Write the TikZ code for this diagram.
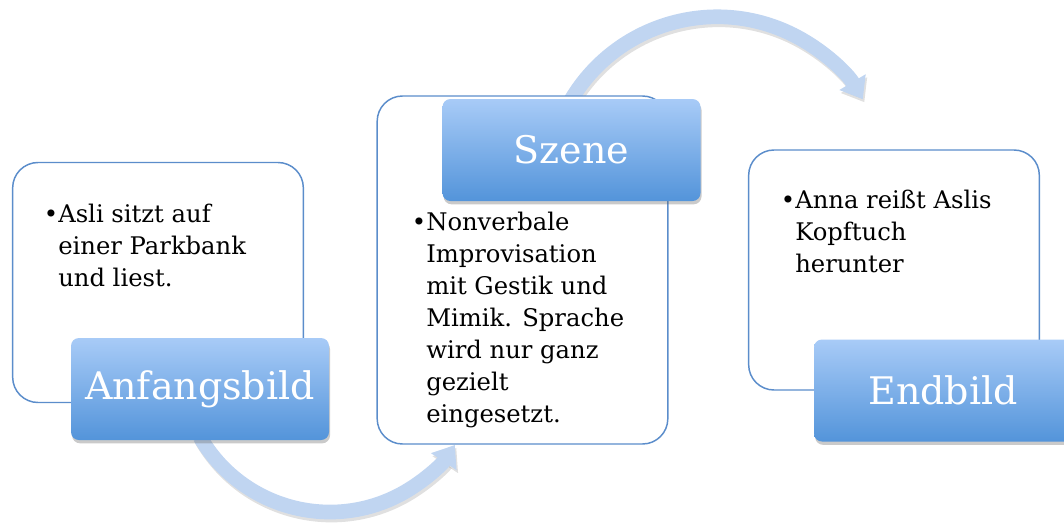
\documentclass[tikz,border=0pt]{standalone}
\usepackage{fontspec}
\setmainfont{DejaVu Serif}
\usetikzlibrary{arrows.meta,shadows}
\definecolor{frameblue}{HTML}{5B8DCB}
\definecolor{labeltop}{HTML}{A8CBF7}
\definecolor{labelbottom}{HTML}{5394DA}
\definecolor{arcblue}{HTML}{C0D5F1}

\begin{document}
\begin{tikzpicture}[x=0.75pt,y=-0.75pt,
  panel/.style={draw=frameblue, line width=1.1pt, fill=white, rounded corners=19pt,
    minimum width=218pt, minimum height=180pt, inner sep=0pt},
  tag/.style={rounded corners=6pt, top color=labeltop, bottom color=labelbottom,
    minimum width=193.5pt, minimum height=76.5pt, inner sep=0pt, text=white,
    font=\fontsize{28.5}{34}\selectfont,
    drop shadow={shadow xshift=0.8pt, shadow yshift=-2.5pt, opacity=0.35, fill=black!60}},
  bullets/.style={anchor=north west, inner sep=0pt, align=left,
    font=\fontsize{18.2}{24}\selectfont},
  flow/.style={arcblue, line width=11pt, -{Triangle[width=22pt,length=15pt]}},
  flowshadow/.style={black, opacity=0.12, line width=11pt, -{Triangle[width=22pt,length=15pt]}}]

\useasboundingbox (0,0) rectangle (1064,522);

% curved arrows between the stages (drawn first, they pass under the boxes)
\coordinate (arcAstart) at (200,437);
\coordinate (arcBstart) at (567,107);
\draw[flowshadow] ([shift={(1.5,3)}]arcAstart) arc[start angle=150, end angle=33.6, radius=150];
\draw[flowshadow] ([shift={(1.5,3)}]arcBstart) arc[start angle=-152, end angle=-31, radius=170];
\draw[flow] (arcAstart) arc[start angle=150, end angle=33.6, radius=150];
\draw[flow] (arcBstart) arc[start angle=-152, end angle=-31, radius=170];

% content panels
\node[panel] (p1) at (158,282.5) {};
\node[panel, minimum height=261pt] (p2) at (522.5,270) {};
\node[panel] (p3) at (894,270) {};

% stage labels
\node[tag] (t1) at (200,389) {Anfangsbild};
\node[tag] (t2) at (571.5,150) {Szene};
\node[tag] (t3) at (943,390.5) {Endbild};

% bullet texts
\node[bullets] (b1) at (58,203.5) {\llap{•}Asli sitzt auf\\einer Parkbank\\und liest.};
\node[bullets] (b2) at (426,211.5) {\llap{•}Nonverbale\\Improvisation\\mit Gestik und\\Mimik. Sprache\\wird nur ganz\\gezielt\\eingesetzt.};
\node[bullets] (b3) at (795,189.5) {\llap{•}Anna reißt Aslis\\Kopftuch\\herunter};
\end{tikzpicture}
\end{document}
